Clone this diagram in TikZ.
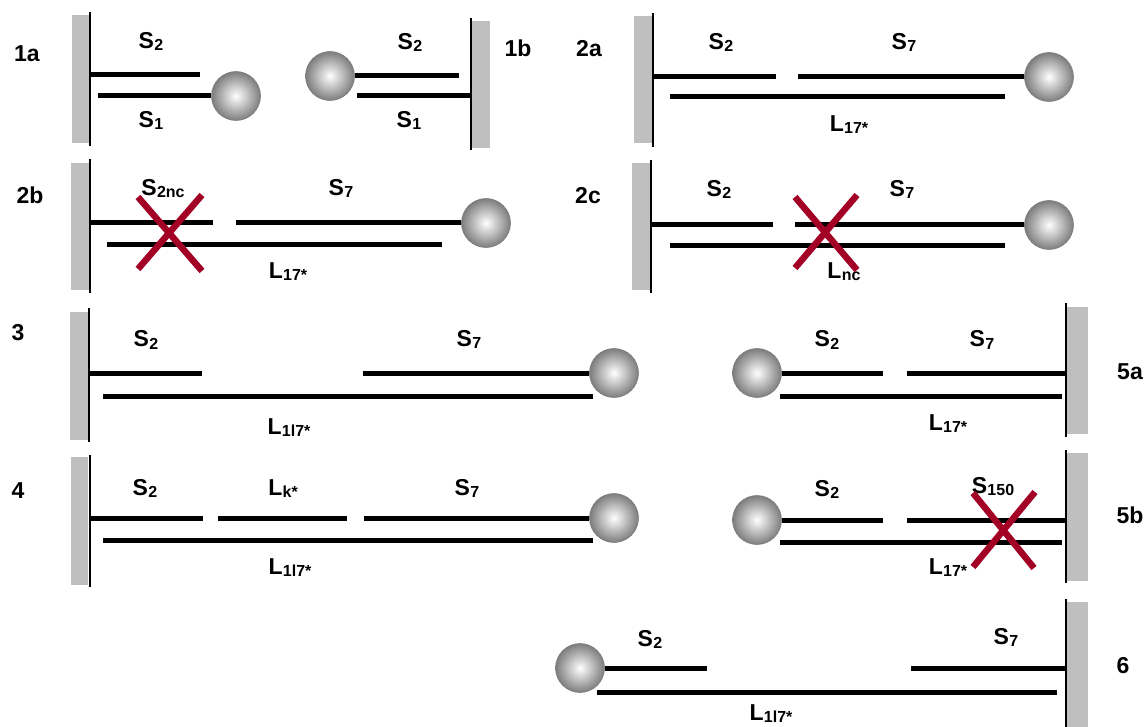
\documentclass[tikz,border=0pt]{standalone}
\usepackage{fontspec}
\setmainfont{Liberation Sans}
\definecolor{bargray}{RGB}{191,191,191}
\definecolor{ballgray}{RGB}{125,125,125}
\definecolor{xred}{RGB}{163,0,38}
\newcommand\lb[2]{#1\kern0.3pt\raisebox{-2pt}{\fontsize{16}{16}\selectfont #2}}
\begin{document}
\begin{tikzpicture}[x=1pt,y=-1pt,
  strand/.style={line width=5pt},
  wall/.style={line width=2pt},
  barbox/.style={fill=bargray,draw=none},
  ball/.style={circle,minimum size=49pt,inner sep=0pt,inner color=white,outer color=ballgray,draw=ballgray,line width=0.6pt},
  lab/.style={font=\fontsize{23}{23}\selectfont\bfseries,anchor=base,inner sep=0pt},
  cross/.style={line width=6.5pt,draw=xred}]
\useasboundingbox (0,0) rectangle (1146,727);

% ---------- 1a ----------
\fill[barbox] (72,15) rectangle (89,143);
\draw[wall] (90,12) -- (90,146);
\node[ball] (b1a) at (236,96) {};
\draw[strand] (90,75) -- (200,75);
\draw[strand] (98,96) -- (b1a.west);
\node[lab] (l1a) at (27,62) {1a};
\node[lab] (s2a1) at (151,49) {\lb{S}{2}};
\node[lab] (s1a1) at (151,128) {\lb{S}{1}};

% ---------- 1b ----------
\node[ball] (b1b) at (330,76) {};
\draw[strand] (b1b.east) -- (459,76);
\draw[strand] (357,96) -- (471,96);
\fill[barbox] (471,21) rectangle (490,148);
\draw[wall] (471,18) -- (471,150);
\node[lab] (l1b) at (518,57) {1b};
\node[lab] (s2b1) at (410,50) {\lb{S}{2}};
\node[lab] (s1b1) at (409,128) {\lb{S}{1}};

% ---------- 2a ----------
\fill[barbox] (634,16) rectangle (652,143);
\draw[wall] (653,13) -- (653,147);
\node[ball] (b2a) at (1049,77) {};
\draw[strand] (653,77) -- (776,77);
\draw[strand] (798,77) -- (b2a.west);
\draw[strand] (670,97) -- (1005,97);
\node[lab] (l2a) at (589,57) {2a};
\node[lab] (s2a2) at (721,50) {\lb{S}{2}};
\node[lab] (s7a2) at (904,50) {\lb{S}{7}};
\node[lab] (la2) at (849,132) {\lb{L}{17*}};

% ---------- 2b ----------
\fill[barbox] (71,163) rectangle (89,290);
\draw[wall] (90,159) -- (90,293);
\node[ball] (b2b) at (486,223) {};
\draw[strand] (90,223) -- (213,223);
\draw[strand] (236,223) -- (b2b.west);
\draw[strand] (107,245) -- (442,245);
\node[lab] (l2b) at (30,204) {2b};
\node[lab] (s2b2) at (163,196) {\lb{S}{2nc}};
\node[lab] (s7b2) at (341,196) {\lb{S}{7}};
\node[lab] (lb2) at (288,279) {\lb{L}{17*}};
\draw[cross] (138,197) -- (202,271);
\draw[cross] (202,195) -- (138,269);

% ---------- 2c ----------
\fill[barbox] (632,163) rectangle (650,290);
\draw[wall] (651,160) -- (651,293);
\node[ball] (b2c) at (1049,225) {};
\draw[strand] (651,225) -- (773,225);
\draw[strand] (795,225) -- (b2c.west);
\draw[strand] (670,246) -- (1005,246);
\node[lab] (l2c) at (588,204) {2c};
\node[lab] (s2c2) at (719,197) {\lb{S}{2}};
\node[lab] (s7c2) at (902,197) {\lb{S}{7}};
\node[lab] (lc2) at (844,279) {\lb{L}{nc}};
\draw[cross] (795,197) -- (857,270);
\draw[cross] (857,195) -- (795,268);

% ---------- 3 ----------
\fill[barbox] (70,312) rectangle (88,440);
\draw[wall] (89,308) -- (89,442);
\node[ball] (b3) at (614,373) {};
\draw[strand] (89,373) -- (202,373);
\draw[strand] (363,373) -- (b3.west);
\draw[strand] (103,396) -- (593,396);
\node[lab] (l3) at (18,341) {3};
\node[lab] (s23) at (146,347) {\lb{S}{2}};
\node[lab] (s73) at (469,346) {\lb{S}{7}};
\node[lab] (ll3) at (289,434) {\lb{L}{1l7*}};

% ---------- 4 ----------
\fill[barbox] (71,457) rectangle (88,585);
\draw[wall] (90,455) -- (90,587);
\node[ball] (b4) at (614,518) {};
\draw[strand] (90,518) -- (203,518);
\draw[strand] (218,518) -- (347,518);
\draw[strand] (364,518) -- (b4.west);
\draw[strand] (103,540) -- (593,540);
\node[lab] (l4) at (18,498) {4};
\node[lab] (s24) at (145,495) {\lb{S}{2}};
\node[lab] (lk4) at (283,495) {\lb{L}{k*}};
\node[lab] (s74) at (467,495) {\lb{S}{7}};
\node[lab] (ll4) at (290,574) {\lb{L}{1l7*}};

% ---------- 5a ----------
\node[ball] (b5a) at (757,373) {};
\draw[strand] (b5a.east) -- (883,373);
\draw[strand] (907,373) -- (1066,373);
\draw[strand] (780,396) -- (1062,396);
\fill[barbox] (1067,307) rectangle (1088,434);
\draw[wall] (1066,303) -- (1066,437);
\node[lab] (l5a) at (1130,379) {5a};
\node[lab] (s25a) at (827,347) {\lb{S}{2}};
\node[lab] (s75a) at (982,347) {\lb{S}{7}};
\node[lab] (ll5a) at (948,430) {\lb{L}{17*}};

% ---------- 5b ----------
\node[ball] (b5b) at (757,520) {};
\draw[strand] (b5b.east) -- (883,520);
\draw[strand] (907,520) -- (1066,520);
\draw[strand] (780,542) -- (1062,542);
\fill[barbox] (1067,453) rectangle (1088,581);
\draw[wall] (1066,450) -- (1066,583);
\node[lab] (l5b) at (1130,523) {5b};
\node[lab] (s25b) at (827,496) {\lb{S}{2}};
\node[lab] (s150) at (993,493) {\lb{S}{150}};
\node[lab] (ll5b) at (948,574) {\lb{L}{17*}};
\draw[cross] (973,493) -- (1034,568);
\draw[cross] (1035,492) -- (973,567);

% ---------- 6 ----------
\node[ball] (b6) at (580,668) {};
\draw[strand] (b6.east) -- (707,668);
\draw[strand] (911,668) -- (1066,668);
\draw[strand] (597,692) -- (1057,692);
\fill[barbox] (1067,602) rectangle (1088,727);
\draw[wall] (1066,599) -- (1066,727);
\node[lab] (l6) at (1123,673) {6};
\node[lab] (s26) at (650,646) {\lb{S}{2}};
\node[lab] (s76) at (1006,644) {\lb{S}{7}};
\node[lab] (ll6) at (771,720) {\lb{L}{1l7*}};
\end{tikzpicture}
\end{document}
